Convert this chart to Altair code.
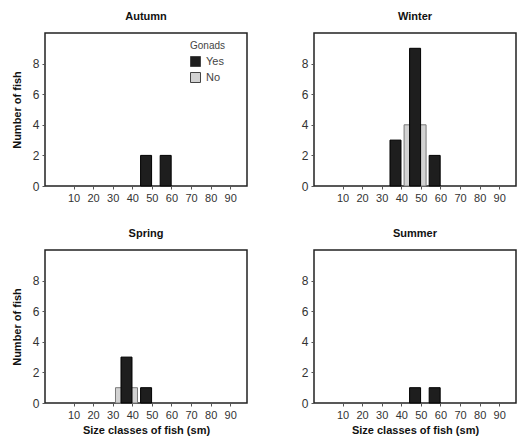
import altair as alt
import pandas as pd

seasons = ["Autumn", "Winter", "Spring", "Summer"]
size_classes = [35, 45, 55]          # class midpoints: 30-40, 40-50, 50-60 cm
yes_autumn = [0, 2, 2]
no_autumn = [0, 0, 0]
yes_winter = [3, 9, 2]
no_winter = [0, 4, 0]
yes_spring = [3, 1, 0]
no_spring = [1, 0, 0]
yes_summer = [0, 1, 1]
no_summer = [0, 0, 0]
x_ticks = [10, 20, 30, 40, 50, 60, 70, 80, 90]
y_ticks = [0, 2, 4, 6, 8]

yes_counts = {"Autumn": yes_autumn, "Winter": yes_winter, "Spring": yes_spring, "Summer": yes_summer}
no_counts = {"Autumn": no_autumn, "Winter": no_winter, "Spring": no_spring, "Summer": no_summer}

rows = []
for s in seasons:
    for c, y, n in zip(size_classes, yes_counts[s], no_counts[s]):
        if n > 0:
            rows.append({"season": s, "size": c, "gonads": "No", "count": n})
        if y > 0:
            rows.append({"season": s, "size": c, "gonads": "Yes", "count": y})
df = pd.DataFrame(rows)

FONT = "Liberation Sans"
xscale = alt.Scale(domain=[-2, 96], nice=False, zero=False)
yscale = alt.Scale(domain=[0, 10], nice=False)
cscale = alt.Scale(domain=["Yes", "No"], range=["#1e1e1e", "#d2d2d2"])


def panel(season, ytitle, xtitle, legend):
    xaxis = alt.Axis(values=x_ticks, title=("Size classes of fish (sm)" if xtitle else None),
                     labelFontSize=11, labelColor="#333", tickSize=3, tickColor="#555",
                     labelPadding=3, domain=False, grid=False, titleFontSize=11,
                     titleFontWeight="bold", titleColor="#111", titlePadding=4, labelFlush=False)
    yaxis = alt.Axis(values=y_ticks, title=("Number of fish" if ytitle else None),
                     labelFontSize=12, labelColor="#333", tickSize=3, tickColor="#555",
                     labelPadding=3, domain=False, grid=False, titleFontSize=11,
                     titleFontWeight="bold", titleColor="#111", titlePadding=10)
    if legend:
        leg = alt.Legend(title="Gonads", orient="none", legendX=145, legendY=8,
                         titleFontSize=10, titleFontWeight="normal", titleColor="#444",
                         labelFontSize=11, labelColor="#444", symbolType="square",
                         symbolSize=100, symbolStrokeColor="#444", symbolStrokeWidth=1,
                         rowPadding=1, titlePadding=5, labelOffset=5)
    else:
        leg = None
    base = alt.Chart(df).transform_filter(alt.datum.season == season)
    enc = dict(
        x=alt.X("size:Q", scale=xscale, axis=xaxis),
        y=alt.Y("count:Q", scale=yscale, axis=yaxis),
        color=alt.Color("gonads:N", scale=cscale, legend=leg),
    )
    no_layer = base.transform_filter(alt.datum.gonads == "No").mark_bar(
        size=22, stroke="#7a7a7a", strokeWidth=1, xOffset=4).encode(**enc)
    yes_layer = base.transform_filter(alt.datum.gonads == "Yes").mark_bar(
        size=11, stroke="#000", strokeWidth=1, xOffset=4).encode(**enc)
    return alt.layer(no_layer, yes_layer).properties(
        width=202, height=153,
        title=alt.TitleParams(season, fontSize=11, fontWeight="bold", color="#111", offset=11),
    )


top = alt.hconcat(panel("Autumn", True, False, True), panel("Winter", False, False, False),
                  spacing=52).resolve_legend(color="independent")
bottom = alt.hconcat(panel("Spring", True, True, False), panel("Summer", False, True, False),
                     spacing=52).resolve_legend(color="independent")
chart = alt.vconcat(top, bottom, spacing=23).resolve_legend(color="independent").properties(
    padding={"left": 10, "top": 10, "right": 2, "bottom": 2}, background="white"
).configure(font=FONT).configure_view(stroke="#222", strokeWidth=1.5)

chart.save("out.html", embed_options={"renderer": "svg", "actions": False})
